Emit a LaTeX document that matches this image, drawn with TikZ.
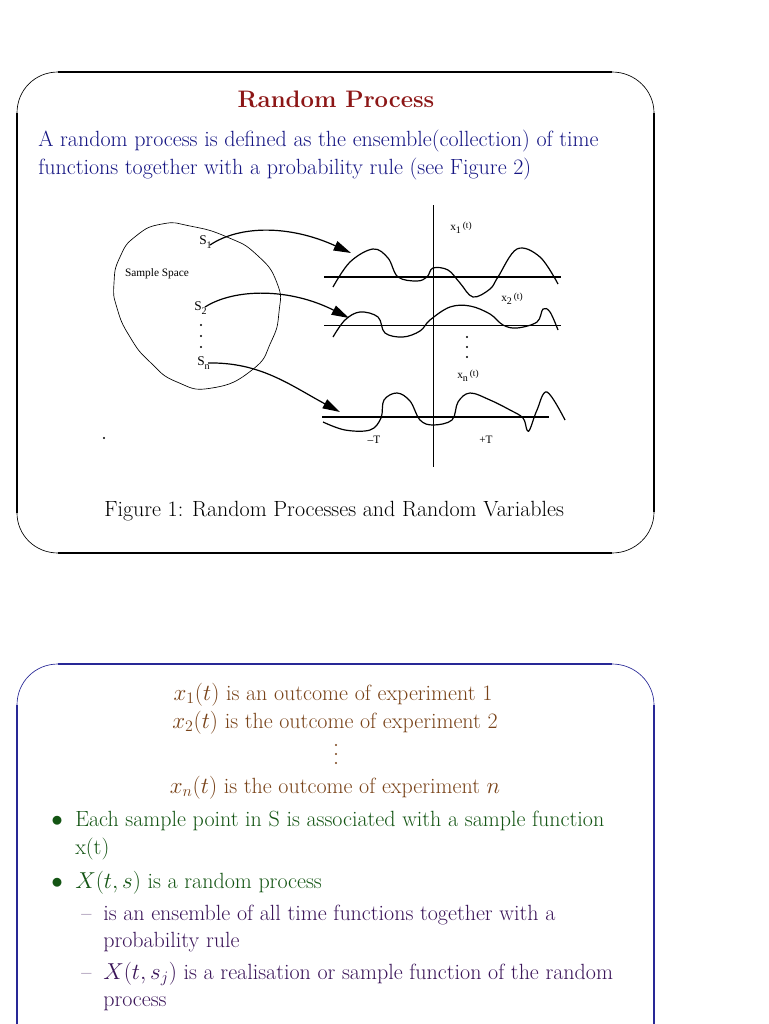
\documentclass[tikz,border=0pt]{standalone}
\usepackage{amsmath,amssymb}
\usepackage{fontspec}
\newfontfamily\figfont{Liberation Serif}
\usetikzlibrary{arrows.meta}
\definecolor{titlered}{RGB}{140,22,22}
\definecolor{introblue}{RGB}{20,20,130}
\definecolor{framenavy}{RGB}{40,40,150}
\definecolor{outbrown}{RGB}{120,66,24}
\definecolor{itemgreen}{RGB}{20,85,20}
\definecolor{subpurple}{RGB}{58,20,88}
\tikzstyle{edgethick}=[line width=1.4pt]
\tikzstyle{edgearc}=[line width=0.5pt]
\tikzstyle{wave}=[line width=0.9pt, line join=round]
\tikzstyle{axis}=[line width=0.5pt]
\tikzstyle{mapar}=[line width=0.9pt, -{Triangle[length=13pt,width=7.5pt]}]
\tikzstyle{lbl}=[inner sep=0, font=\figfont\fontsize{8.5}{9}\selectfont]
\tikzstyle{slbl}=[lbl, anchor=base west, font=\figfont\fontsize{10}{10}\selectfont]
\tikzstyle{txt}=[inner sep=0, anchor=base west, font=\fontsize{16.5}{19}\selectfont]
\tikzstyle{ctxt}=[txt, anchor=base]
\newcommand{\figsub}[1]{\raisebox{-0.7ex}{\fontsize{7.5}{7.5}\selectfont #1}}
\newcommand{\figarg}{\,\raisebox{0.25ex}{\fontsize{7}{7}\selectfont (t)}}

\begin{document}
\begin{tikzpicture}[x=0.75pt,y=-0.75pt]
\useasboundingbox (0,0) rectangle (768,1024);

% upper panel
\draw[edgethick] (58,72)--(612,72);
\draw[edgethick] (17,113)--(17,513);
\draw[edgethick] (654,113)--(654,512);
\draw[edgethick] (58,553)--(612,553);
\draw[edgearc] (17,113) .. controls (17,90) and (35,72) .. (58,72);
\draw[edgearc] (612,72) .. controls (635,72) and (654,90) .. (654,113);
\draw[edgearc] (17,513) .. controls (17,535) and (35,553) .. (58,553);
\draw[edgearc] (654,512) .. controls (654,535) and (635,553) .. (612,553);

\node[ctxt, text=titlered, font=\fontsize{17.9}{21}\selectfont\bfseries] (title) at (336,108) {Random Process};
\node[txt, text=introblue] (intro1) at (38,146) {A random process is defined as the ensemble(collection) of time};
\node[txt, text=introblue] (intro2) at (38,174) {functions together with a probability rule (see Figure 2)};

% sample space
\draw[axis] plot[smooth cycle, tension=0.9] coordinates {(114,283) (120,257) (136,236) (162,224) (190,226) (227,237) (257,255) (277,283) (279,312) (271,342) (252,370) (212,388) (177,382) (150,362) (130,337) (117,308)};
\node[lbl] (space) at (157,274) {Sample Space};
\node[slbl] (s1) at (199,244) {S\figsub{1}};
\node[slbl] (s2) at (194,310) {S\figsub{2}};
\node[slbl] (sn) at (197,365) {S\figsub{n}};
\foreach \y in {325,336,347} \fill (201,\y) circle (1.1);
\fill (104,438) circle (1.1);

% time axes
\draw[axis] (433,205)--(433,467);
\draw[wave] (324,277)--(561,277);
\draw[axis] (324,325)--(561,325);
\draw[wave] (322,417)--(549,417);

% sample functions
\coordinate (w1) at (351,253);
\coordinate (w2) at (349,318);
\coordinate (wn) at (340,412);
\draw[wave] plot[smooth, tension=0.6] coordinates {(333,287) (350,262) (373,249) (388,258) (398,277) (417,281) (427,277) (433,268) (448,270) (460,283) (473,297) (490,289) (498,277) (517,249) (540,257) (558,284)};
\draw[wave] plot[smooth, tension=0.6] coordinates {(333,337) (345,320) (360,312) (378,317) (385,333) (403,337) (420,331) (430,320) (450,307) (470,306) (490,314) (503,325) (517,328) (537,322) (543,309) (550,312) (558,330)};
\draw[wave] plot[smooth, tension=0.6] coordinates {(323,422) (345,430) (370,430) (381,418) (384,400) (397,393) (410,401) (420,420) (433,425) (452,420) (458,402) (470,393) (490,400) (510,410) (523,418) (527,430) (530,429) (537,410) (547,392) (565,420)};

\draw[mapar] (210,245) .. controls (240,225) and (290,225) .. (w1);
\draw[mapar] (205,307) .. controls (235,288) and (290,288) .. (w2);
\draw[mapar] (208,363) .. controls (260,362) and (290,385) .. (wn);

\node[lbl, anchor=base west] (x1) at (450,230) {x\figsub{1}\figarg};
\node[lbl, anchor=base west] (x2) at (501,301) {x\figsub{2}\figarg};
\node[lbl, anchor=base west] (xn) at (457,378) {x\figsub{n}\figarg};
\foreach \y in {337,347,357} \fill (467,\y) circle (1.1);
\node[lbl] (mT) at (374,440) {\textendash T};
\node[lbl] (pT) at (486,440) {+T};

\node[txt] (caption) at (104,516) {Figure 1: Random Processes and Random Variables};

% lower panel
\draw[edgethick, framenavy] (58,664)--(612,664);
\draw[edgethick, framenavy] (17,705)--(17,1030);
\draw[edgethick, framenavy] (654,705)--(654,1030);
\draw[edgearc, framenavy] (17,705) .. controls (17,682) and (35,664) .. (58,664);
\draw[edgearc, framenavy] (612,664) .. controls (635,664) and (654,682) .. (654,705);

\node[ctxt, text=outbrown] (out1) at (333,700) {$x_1(t)$ is an outcome of experiment 1};
\node[ctxt, text=outbrown] (out2) at (335,728) {$x_2(t)$ is the outcome of experiment 2};
\foreach \y in {745,754,763} \fill[outbrown] (336,\y) circle (1.1);
\node[ctxt, text=outbrown] (outn) at (335,793) {$x_n(t)$ is the outcome of experiment $n$};

\node[txt, text=itemgreen] (b1) at (51,826) {$\bullet$};
\node[txt, text=itemgreen] (i1a) at (75,826) {Each sample point in S is associated with a sample function};
\node[txt, text=itemgreen] (i1b) at (75,854) {x(t)};
\node[txt, text=itemgreen] (b2) at (51,888) {$\bullet$};
\node[txt, text=itemgreen] (i2) at (75,888) {$X(t,s)$ is a random process};
\node[txt, text=subpurple] (d1) at (81,920) {--};
\node[txt, text=subpurple] (j1a) at (103,920) {is an ensemble of all time functions together with a};
\node[txt, text=subpurple] (j1b) at (103,947) {probability rule};
\node[txt, text=subpurple] (d2) at (81,979) {--};
\node[txt, text=subpurple] (j2a) at (103,979) {$X(t,s_j)$ is a realisation or sample function of the random};
\node[txt, text=subpurple] (j2b) at (103,1006) {process};
\end{tikzpicture}
\end{document}
